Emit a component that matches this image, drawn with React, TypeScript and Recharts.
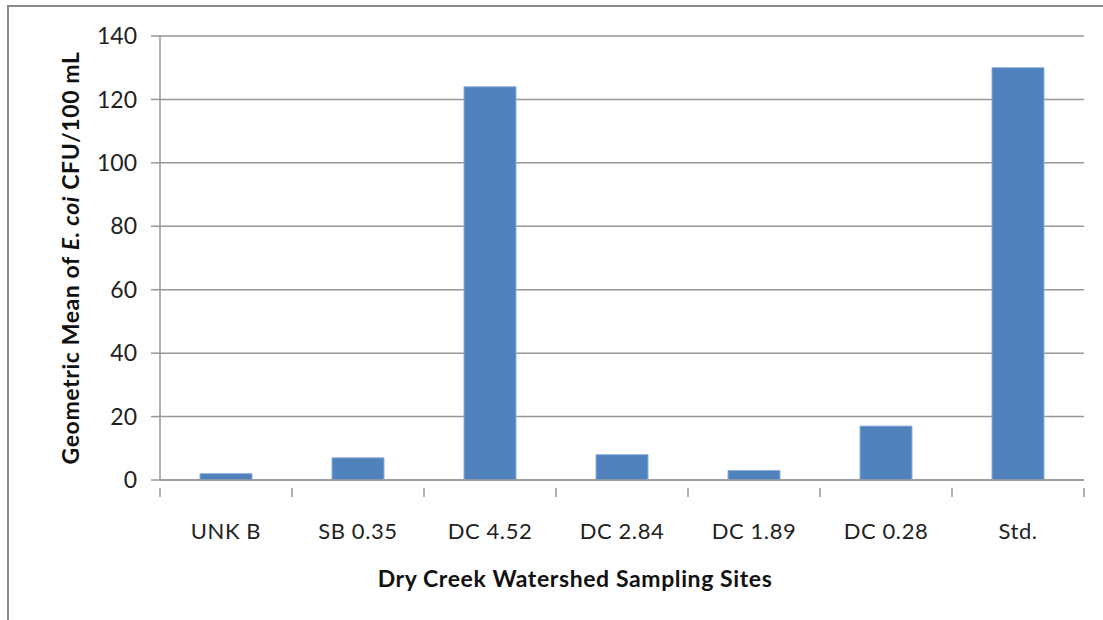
import React from "react";
import { BarChart, Bar, XAxis, YAxis, CartesianGrid } from "recharts";

// sampling sites and geometric means
const sites: string[] = ["UNK B", "SB 0.35", "DC 4.52", "DC 2.84", "DC 1.89", "DC 0.28", "Std."];
const geoMeans: number[] = [2, 7, 124, 8, 3, 17, 130];
const yTicks: number[] = [0, 20, 40, 60, 80, 100, 120, 140];

const data = sites.map((site, i) => ({ site, value: geoMeans[i] }));

const FONT = "Lato, 'Open Sans', sans-serif";
const AXIS_GRAY = "#979797";

const WIDTH = 1103;
const HEIGHT = 620;
const MARGIN = { top: 36, right: 19, bottom: 0, left: 0 };
const Y_AXIS_W = 160;
const bandW = (WIDTH - MARGIN.left - MARGIN.right - Y_AXIS_W) / sites.length;

const SiteTick = (props: any) => {
  const { x, y, payload, index } = props;
  const left = x - bandW / 2;
  return (
    <g>
      <line x1={left} y1={y} x2={left} y2={y + 9} stroke={AXIS_GRAY} strokeWidth={1.5} />
      {index === sites.length - 1 && (
        <line x1={x + bandW / 2} y1={y} x2={x + bandW / 2} y2={y + 9} stroke={AXIS_GRAY} strokeWidth={1.5} />
      )}
      <text
        x={x}
        y={y + 35}
        textAnchor="middle"
        dy="0.71em"
        fill="#222"
        fontSize={22}
        letterSpacing={0.6}
        fontFamily={FONT}
      >
        {payload.value}
      </text>
    </g>
  );
};

const YTitle = (props: any) => {
  const vb = props.viewBox || {};
  const cy = (vb.y || 0) + (vb.height || 0) / 2;
  return (
    <text
      x={70}
      y={cy}
      transform={`rotate(-90, 70, ${cy})`}
      textAnchor="middle"
      dominantBaseline="central"
      fontSize={23}
      letterSpacing={0.6}
      fontWeight="bold"
      fontFamily={FONT}
      fill="#111"
    >
      Geometric Mean of <tspan fontStyle="italic">E. coi</tspan> CFU/100 mL
    </text>
  );
};

const XTitle = (props: any) => {
  const vb = props.viewBox || {};
  const cx = (vb.x || 0) + (vb.width || 0) / 2 - 47;
  return (
    <text
      x={cx}
      y={578}
      textAnchor="middle"
      dominantBaseline="central"
      fontSize={23}
      letterSpacing={0.6}
      fontWeight="bold"
      fontFamily={FONT}
      fill="#111"
    >
      Dry Creek Watershed Sampling Sites
    </text>
  );
};

export default function App() {
  return (
    <div style={{ position: "fixed", left: 0, top: 0, width: WIDTH, height: HEIGHT, background: "#fff" }}>
      <div
        style={{
          position: "absolute",
          left: 7,
          top: 5,
          right: 0,
          bottom: 0,
          borderTop: "2px solid #8a8a8a",
          borderLeft: "2px solid #8a8a8a",
        }}
      />
      <BarChart
        width={WIDTH}
        height={HEIGHT}
        data={data}
        margin={MARGIN}
        barSize={52}
        style={{ position: "absolute", left: 0, top: 0 }}
      >
        <CartesianGrid vertical={false} stroke={AXIS_GRAY} strokeWidth={1.5} />
        <XAxis
          dataKey="site"
          height={140}
          axisLine={{ stroke: AXIS_GRAY, strokeWidth: 1.5 }}
          tickLine={false}
          tick={<SiteTick />}
          interval={0}
          label={<XTitle />}
        />
        <YAxis
          width={Y_AXIS_W}
          domain={[0, 140]}
          ticks={yTicks}
          interval={0}
          axisLine={{ stroke: AXIS_GRAY, strokeWidth: 1.5 }}
          tickLine={{ stroke: AXIS_GRAY, strokeWidth: 1.5 }}
          tickSize={9}
          tickMargin={14}
          tick={{ fill: "#222", fontSize: 23, fontFamily: FONT }}
          label={<YTitle />}
        />
        <Bar dataKey="value" fill="#4f81bd" stroke="#8fb0d8" strokeWidth={1} isAnimationActive={false} />
      </BarChart>
    </div>
  );
}
